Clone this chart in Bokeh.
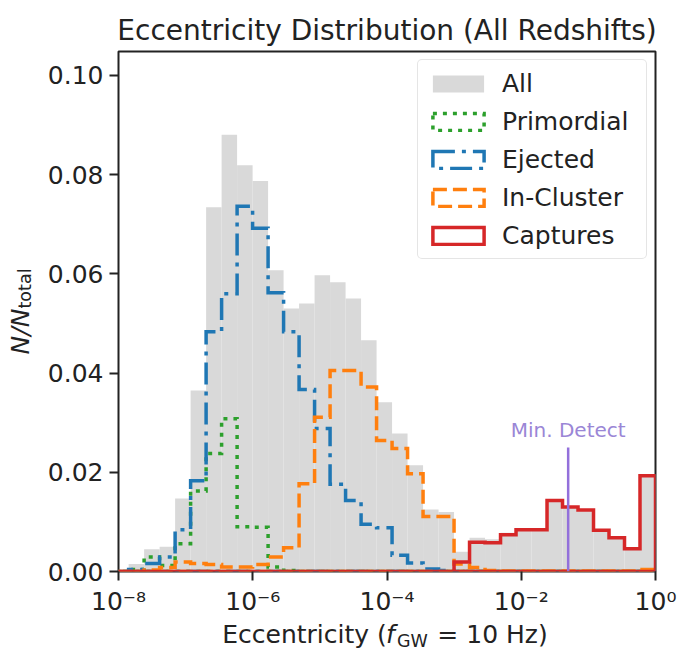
import numpy as np
from bokeh.plotting import figure
from bokeh.models import (FixedTicker, PrintfTickFormatter, CustomJSTickFormatter,
                          Range1d, LinearAxis, LinearScale)
from bokeh.embed import file_html
from bokeh.resources import INLINE
from bokeh.core.properties import value

# ---- data (fractions per log-spaced eccentricity bin) ----
log_edge_min = -8.08
log_edge_max = 0.0
n_bins = 35

all_frac = [0.0003, 0.0015, 0.0045, 0.0050, 0.0147, 0.0365, 0.0734, 0.0880, 0.0819,
            0.0787, 0.0607, 0.0530, 0.0540, 0.0597, 0.0583, 0.0550, 0.0466, 0.0341,
            0.0278, 0.0214, 0.0125, 0.0120, 0.0040, 0.0068, 0.0065, 0.0078, 0.0087,
            0.0086, 0.0145, 0.0132, 0.0125, 0.0085, 0.0070, 0.0048, 0.0196]
primordial = [0.0, 0.0004, 0.0029, 0.0012, 0.0056, 0.0162, 0.0238, 0.0308, 0.0090,
              0.0089, 0.0009, 0.0002, 0.0, 0.0, 0.0, 0.0, 0.0, 0.0,
              0.0, 0.0, 0.0, 0.0, 0.0, 0.0, 0.0, 0.0, 0.0,
              0.0, 0.0, 0.0, 0.0, 0.0, 0.0, 0.0, 0.0]
ejected = [0.0, 0.0004, 0.0016, 0.0029, 0.0084, 0.0183, 0.0483, 0.0560, 0.0736,
           0.0692, 0.0562, 0.0483, 0.0367, 0.0288, 0.0176, 0.0143, 0.0095, 0.0088,
           0.0033, 0.0017, 0.0005, 0.0002, 0.0, 0.0, 0.0, 0.0, 0.0,
           0.0, 0.0, 0.0, 0.0, 0.0, 0.0, 0.0, 0.0]
in_cluster = [0.0, 0.0, 0.0003, 0.0008, 0.0019, 0.0016, 0.0014, 0.0009, 0.0009,
              0.0014, 0.0029, 0.0048, 0.0177, 0.0311, 0.0405, 0.0405, 0.0372, 0.0264,
              0.0248, 0.0197, 0.0111, 0.0111, 0.0015, 0.0008, 0.0002, 0.0001, 0.0001,
              0.0001, 0.0001, 0.0001, 0.0001, 0.0001, 0.0001, 0.0001, 0.0004]
captures = [0.0, 0.0, 0.0, 0.0, 0.0, 0.0, 0.0, 0.0, 0.0,
            0.0, 0.0, 0.0, 0.0, 0.0, 0.0, 0.0, 0.0, 0.0,
            0.0, 0.0, 0.0, 0.0, 0.0019, 0.0059, 0.0058, 0.0074, 0.0084,
            0.0084, 0.0143, 0.0130, 0.0124, 0.0083, 0.0068, 0.0046, 0.0193]

min_detect_e = 0.05
min_detect_top = 0.025
min_detect_text_y = 0.0285

x_ticks = [1e-8, 1e-6, 1e-4, 1e-2, 1.0]
y_ticks = [0.0, 0.02, 0.04, 0.06, 0.08, 0.10]

# axis-label text pieces (text, position along the axis in pixels of the plot area)
xlabel_plain = {186: "Eccentricity (", 374: "= 10 Hz)"}
xlabel_italic = {272: "f"}
xlabel_sub = {294: "GW"}
ylabel_main = {240: "N/N"}
ylabel_sub = {283: "total"}

FONT = "DejaVu Sans"
INK = "#222222"
edges = 10 ** np.linspace(log_edge_min, log_edge_max, n_bins + 1)


def step_outline(vals):
    xs = [edges[0]]
    ys = [0.0]
    for i, v in enumerate(vals):
        xs += [edges[i], edges[i + 1]]
        ys += [v, v]
    xs.append(edges[-1])
    ys.append(0.0)
    return xs, ys


p = figure(width=681, height=654, x_axis_type="log",
           x_range=Range1d(1e-8, 1.0), y_range=Range1d(0, 0.1048),
           output_backend="svg", toolbar_location=None,
           min_border_left=118, min_border_right=26,
           min_border_top=51, min_border_bottom=83)
p.extra_x_ranges = {"lab": Range1d(0, 537)}
p.extra_x_scales = {"lab": LinearScale()}
p.extra_y_ranges = {"lab": Range1d(0, 520)}
p.extra_y_scales = {"lab": LinearScale()}

p.grid.visible = False
p.background_fill_color = "white"
p.border_fill_color = "white"
p.outline_line_color = INK
p.outline_line_width = 2

p.title.text = "Eccentricity Distribution (All Redshifts)"
p.title.text_font = FONT
p.title.text_font_size = "28px"
p.title.text_font_style = "normal"
p.title.align = "center"
p.title.text_color = INK

# All (filled)
p.quad(left=edges[:-1], right=edges[1:], top=all_frac, bottom=0,
       fill_color="#d9d9d9", line_color=None, legend_label="All")

series = [
    (primordial, "#2ca02c", "4 6", "Primordial"),
    (ejected, "#1f77b4", "22 7 4 7", "Ejected"),
    (in_cluster, "#ff7f0e", "14 6", "In-Cluster"),
    (captures, "#d62728", "solid", "Captures"),
]
for vals, col, dash, lab in series:
    xs, ys = step_outline(vals)
    p.patch(xs, ys, fill_color=None, line_color=col, line_width=3.5,
            line_dash=dash, line_join="miter", legend_label=lab)

# Min. detect marker
p.segment(x0=[min_detect_e], y0=[0], x1=[min_detect_e], y1=[min_detect_top],
          line_color="#9370db", line_width=2.5)
p.text(x=[min_detect_e], y=[min_detect_text_y], text=["Min. Detect"],
       text_align="center", text_baseline="middle", text_font=value(FONT),
       text_font_size="20px", text_color="#9a86d6")

# main axes
for ax in (p.xaxis[0], p.yaxis[0]):
    ax.axis_line_color = None
    ax.major_tick_line_color = INK
    ax.major_tick_line_width = 2
    ax.major_tick_out = 9
    ax.major_tick_in = 0
    ax.minor_tick_line_color = None
    ax.major_label_text_font = FONT
    ax.major_label_text_font_size = "25px"
    ax.major_label_text_color = INK

p.xaxis.ticker = FixedTicker(ticks=x_ticks)
p.xaxis.formatter = CustomJSTickFormatter(code="""
const sup = {'-': '\u207b', '0': '\u2070', '1': '\u00b9', '2': '\u00b2', '3': '\u00b3',
             '4': '\u2074', '5': '\u2075', '6': '\u2076', '7': '\u2077', '8': '\u2078',
             '9': '\u2079'};
const e = Math.round(Math.log10(tick));
return '10' + String(e).split('').map(c => sup[c]).join('');
""")
p.xaxis.major_label_standoff = 6
p.yaxis.ticker = FixedTicker(ticks=y_ticks)
p.yaxis.formatter = PrintfTickFormatter(format="%.2f")
p.yaxis.major_label_standoff = 6


def label_axis(side, rng, pieces, size, style, standoff, vertical=False):
    if side in ("below", "above"):
        ax = LinearAxis(x_range_name=rng)
    else:
        ax = LinearAxis(y_range_name=rng)
    ax.ticker = FixedTicker(ticks=list(pieces.keys()))
    ax.major_label_overrides = dict(pieces)
    ax.axis_line_color = None
    ax.major_tick_line_color = None
    ax.minor_tick_line_color = None
    ax.major_tick_out = 0
    ax.major_tick_in = 0
    ax.major_label_standoff = standoff
    ax.major_label_text_font = FONT
    ax.major_label_text_font_size = size
    ax.major_label_text_font_style = style
    ax.major_label_text_color = INK
    if vertical:
        ax.major_label_orientation = "vertical"
    p.add_layout(ax, side)


# x-axis label: "Eccentricity (f_GW = 10 Hz)"
label_axis("below", "lab", xlabel_plain, "25px", "normal", 1)
label_axis("below", "lab", xlabel_italic, "25px", "italic", -32)
label_axis("below", "lab", xlabel_sub, "17.5px", "normal", -21)
# y-axis label: "N/N_total"
label_axis("left", "lab", ylabel_main, "25px", "italic", 10, vertical=True)
label_axis("left", "lab", ylabel_sub, "17.5px", "normal", -32, vertical=True)

# legend
lg = p.legend[0]
lg.location = "top_right"
lg.margin = 8
lg.padding = 8
lg.glyph_width = 64
lg.glyph_height = 21
lg.label_standoff = 12
lg.label_width = 136
lg.label_height = 30
lg.spacing = 8
lg.label_text_font = FONT
lg.label_text_font_size = "25px"
lg.label_text_color = INK
lg.border_line_color = "#cccccc"
lg.border_line_width = 1.5
lg.border_radius = 5
lg.background_fill_alpha = 0.85

open("out.html", "w").write(file_html(p, INLINE))
